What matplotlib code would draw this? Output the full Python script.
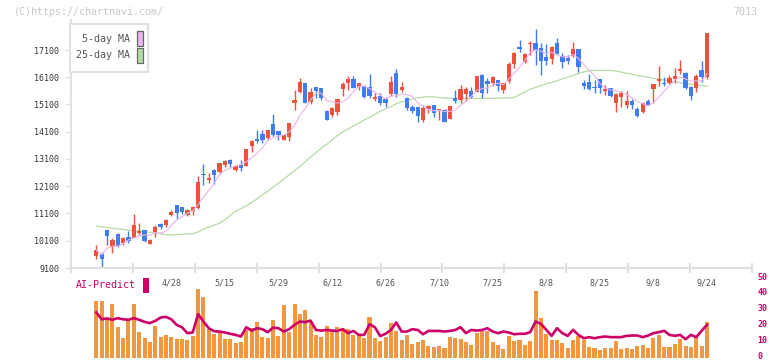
import numpy as np
import pandas as pd
import matplotlib
matplotlib.use("Agg")
import matplotlib.pyplot as plt
import matplotlib.patches as mpatches
import matplotlib.transforms as mtrans

# ---------------- data ----------------
opens = [9551, 9602, 10495, 9883, 10336, 10005, 10238, 10213, 10372, 10495,
         9993, 10421, 10703, 10678, 11045, 11412, 11327, 11045, 11204, 11290,
         12525, 12330, 12696, 12611, 12880, 13064, 12696, 12880, 12843, 13577,
         13834, 14018, 13859, 14385, 14128, 13796, 13920, 15168, 15571, 15877,
         15204, 15730, 15694, 14862, 14703, 14838, 15677, 15902, 16036, 15755,
         15779, 15755, 15302, 15412, 15302, 15473, 16244, 15633, 15351, 14996,
         14996, 14532, 14947, 15082, 14899, 14899, 14580, 15327, 15266, 15473,
         15596, 15571, 16183, 15963, 15877, 15999, 15633, 15963, 16575, 17198,
         16672, 17333, 17345, 17186, 16831, 16770, 17369, 16880, 16819, 16880,
         17137, 15902, 15938, 15755, 16036, 15596, 15694, 15143, 15363, 15082,
         15241, 14935, 14838, 15241, 15669, 15963, 15902, 15902, 16024, 16330,
         16269, 15730, 15718, 16367, 16122]
highs = [9944, 9700, 10495, 10189, 10372, 10250, 10470, 11082, 10764, 10495,
         10152, 10678, 10739, 10911, 11229, 11412, 11327, 11265, 11376, 12476,
         12917, 12574, 12733, 12966, 13064, 13088, 12880, 13064, 13455, 13796,
         14165, 14165, 14165, 14752, 14128, 13981, 14409, 15633, 16085, 15877,
         15694, 15730, 15718, 14899, 15021, 15302, 15938, 16158, 16158, 15902,
         15816, 16220, 15510, 15510, 15388, 16158, 16391, 15938, 15388, 15082,
         15021, 15082, 15082, 15082, 14923, 14923, 15045, 15633, 15816, 15755,
         15755, 16146, 16220, 16061, 16146, 15999, 15902, 16648, 17015, 17467,
         16978, 17431, 17853, 17345, 17320, 17247, 17553, 16978, 16917, 17394,
         17137, 15999, 16220, 15999, 16036, 15804, 15694, 15535, 15596, 15608,
         15302, 14996, 15204, 15302, 15853, 16513, 16122, 16171, 16428, 16734,
         16305, 15792, 16220, 16709, 17736]
lows = [9418, 9088, 9944, 9638, 9883, 9944, 10005, 10189, 10311, 10066,
        9993, 10250, 10519, 10593, 11008, 10886, 11082, 11008, 11045, 11250,
        12146, 12207, 12183, 12538, 12819, 12819, 12672, 12672, 12843, 13369,
        13700, 13700, 13796, 13944, 13796, 13796, 13761, 14899, 15510, 15143,
        15107, 15327, 15266, 14532, 14654, 14715, 15412, 15633, 15694, 15633,
        15351, 15351, 15241, 15082, 14996, 15412, 15388, 15571, 14899, 14777,
        14470, 14470, 14801, 14654, 14532, 14470, 14580, 15143, 15168, 15229,
        15327, 15571, 15327, 15535, 15779, 15596, 15535, 15877, 16428, 17015,
        16611, 16917, 16550, 16183, 16550, 16587, 16954, 16452, 16575, 16831,
        16305, 15657, 15633, 15510, 15535, 15449, 15363, 14838, 14996, 14984,
        14923, 14654, 14801, 15082, 15168, 15779, 15779, 15840, 15902, 16220,
        15669, 15266, 15571, 15914, 16024]
closes = [9761, 9418, 10287, 10128, 9907, 10213, 10103, 10678, 10470, 10103,
          10128, 10593, 10593, 10862, 11167, 11131, 11143, 11229, 11351, 12268,
          12501, 12415, 12513, 12941, 13027, 12904, 12843, 12758, 13455, 13761,
          13761, 13796, 14165, 13981, 13981, 13981, 14409, 15266, 15914, 15168,
          15571, 15608, 15327, 14532, 14984, 15302, 15853, 16036, 15718, 15877,
          15388, 15412, 15388, 15168, 15143, 15938, 15473, 15730, 14984, 14874,
          14691, 14960, 15045, 14777, 14923, 14470, 15045, 15241, 15669, 15669,
          15363, 16146, 15535, 15853, 16097, 15779, 15877, 16575, 16978, 17149,
          16954, 17369, 17100, 16709, 16709, 17198, 16954, 16672, 16709, 17137,
          16489, 15792, 15657, 15718, 15718, 15669, 15424, 15486, 15510, 15241,
          15082, 14678, 15143, 15082, 15853, 16036, 15840, 16085, 16146, 16403,
          15718, 15424, 16146, 16122, 17736]
ma25 = [10640, 10612, 10586, 10560, 10535, 10512, 10490, 10470, 10450, 10430,
        10410, 10396, 10360, 10325, 10315, 10325, 10337, 10347, 10356, 10420,
        10525, 10600, 10670, 10745, 10860, 11030, 11180, 11280, 11380, 11500,
        11640, 11780, 11920, 12070, 12210, 12360, 12520, 12670, 12830, 13000,
        13170, 13330, 13490, 13640, 13800, 13960, 14100, 14200, 14310, 14420,
        14530, 14630, 14740, 14850, 14940, 15030, 15130, 15200, 15250, 15300,
        15345, 15370, 15385, 15380, 15355, 15335, 15327, 15325, 15325, 15325,
        15325, 15327, 15327, 15327, 15330, 15330, 15335, 15340, 15360, 15460,
        15560, 15660, 15730, 15790, 15860, 15910, 15970, 16040, 16100, 16170,
        16230, 16300, 16340, 16348, 16348, 16348, 16348, 16330, 16290, 16245,
        16210, 16170, 16130, 16095, 16060, 16030, 16000, 15965, 15930, 15900,
        15875, 15850, 15820, 15795, 15770]
volume_score = [35.7, 35.7, 24.1, 34.0, 19.3, 12.4, 23.7, 34.0, 16.2, 12.6,
                9.9, 20.0, 13.0, 14.1, 13.0, 11.8, 11.8, 11.2, 13.9, 43.3,
                38.2, 17.9, 15.1, 16.4, 11.8, 11.8, 9.5, 10.1, 17.4, 18.5,
                22.5, 13.2, 12.4, 23.7, 13.7, 32.8, 16.4, 34.0, 27.7, 30.0,
                22.7, 14.3,
                13.2, 20.0, 16.4, 19.3, 17.4, 17.9, 14.3, 14.3, 12.6, 25.6,
                12.4, 10.7, 13.2, 22.0, 16.8, 11.2, 14.3, 8.6, 10.1, 11.2,
                7.4, 6.9, 7.6, 6.1, 13.2, 12.6, 11.8, 10.1, 8.0, 15.4,
                18.3, 16.8, 10.1, 8.0, 5.7, 13.7, 10.7, 11.4, 8.0, 10.7, 41.6,
                25.0, 14.9, 11.2, 11.2, 9.5, 6.3, 11.2, 13.7, 11.2, 6.9,
                5.9, 4.9, 6.3, 6.3, 10.7, 5.7, 6.3, 5.7, 7.4, 8.0,
                6.3, 12.6, 14.3, 6.9, 6.9, 8.6, 11.8, 7.6, 6.9, 12.9, 7.4, 22.7]
ai_predict = [28.4, 24.1, 24.6, 23.8, 24.8, 24.1, 23.8, 24.8, 23.8, 22.5,
              21.7, 23.1, 25.2, 25.6, 24.1, 20.6, 19.1, 15.4, 15.8, 27.3,
              22.7, 18.5, 16.6, 16.4, 15.8, 15.0, 14.3, 13.3, 19.1, 17.0,
              18.5, 17.9, 16.0, 18.9, 18.5, 16.4, 17.9, 20.6, 22.7, 22.3,
              23.3, 17.4,
              17.0, 17.4, 17.0, 16.8, 17.9, 15.4, 16.8, 14.3, 14.3, 21.0,
              19.1, 13.6, 15.0, 17.4, 22.1, 16.4, 16.4, 17.9, 17.4, 14.7,
              16.8, 16.8, 16.8, 16.4, 16.8, 17.4, 19.1, 15.4, 17.4, 17.0,
              17.4, 18.5, 16.4, 15.4, 16.4, 15.8, 14.7, 15.0, 15.0, 16.0, 22.7,
              21.2, 17.5, 13.7, 18.5, 15.4, 13.7, 17.5, 14.3, 12.2, 12.9,
              12.2, 12.9, 13.3, 12.9, 12.9, 12.9, 13.7, 13.9, 13.9, 12.9,
              13.9, 15.4, 16.0, 16.9, 14.3, 13.7, 14.3, 11.6, 14.3, 12.9, 16.9, 20.6]
date_labels = ['4/28', '5/15', '5/29', '6/12', '6/26', '7/10', '7/25', '8/8', '8/25', '9/8', '9/24']
date_label_idx = [14, 24, 34, 44, 54, 64, 74, 84, 94, 104, 114]
price_ticks = [9100, 10100, 11100, 12100, 13100, 14100, 15100, 16100, 17100]
score_ticks = [0, 10, 20, 30, 40, 50]
code = '7013'

# ---------------- style ----------------
plt.rcParams['font.family'] = ['DejaVu Sans Mono']
RED = '#f0503c'
BLUE = '#3f7df0'
PINK = '#e9b4ea'
GREEN = '#b5dba5'
MAG = '#cc0066'
ORANGE = '#f2963f'
AXC = '#e0e0e0'

W, H = 772, 361
fig = plt.figure(figsize=(W / 100, H / 100), dpi=100)

def fx(px):
    return px / W

def fy(py):
    return 1 - py / H

n = len(closes)
x = np.arange(n)
o = np.array(opens, float)
c = np.array(closes, float)
hi = np.array(highs, float)
lo = np.array(lows, float)

left_px, right_px = 71, 752
first_px, step_px = 96.3, 5.357
xlim = ((left_px - first_px) / step_px, (right_px - first_px) / step_px)

# main axes
ax = fig.add_axes([fx(left_px), fy(268), fx(right_px - left_px), (268 - 20) / H])
ymin = 9100
ypp = 1000 / 27.25
ax.set_xlim(*xlim)
ax.set_ylim(ymin, ymin + 248 * ypp)

up = c >= o
colors = np.where(up, RED, BLUE)
ax.vlines(x, lo, hi, colors=colors, linewidth=1.0, zorder=2)
body_bottom = np.minimum(o, c)
body_h = np.maximum(np.abs(c - o), 40)
ax.bar(x, body_h, bottom=body_bottom, width=0.8, color=colors, linewidth=0, zorder=3)

ma5 = pd.Series(c).rolling(5, min_periods=1).mean().values
ax.plot(x, ma5, color=PINK, linewidth=0.8, zorder=4)
ax.plot(x, ma25, color=GREEN, linewidth=0.9, zorder=1)

ax.set_yticks(price_ticks)
ax.set_yticklabels([str(v) for v in price_ticks], fontsize=6, color='#333333')
ax.tick_params(axis='y', length=4.5, width=1, color=AXC, pad=4)
ax.set_xticks(np.linspace(xlim[0], xlim[1], 12))
ax.set_xticklabels([])
ax.tick_params(axis='x', direction='inout', length=7, width=1.5, color=AXC)
for s in ['top', 'right']:
    ax.spines[s].set_visible(False)
for s in ['left', 'bottom']:
    ax.spines[s].set_color(AXC)
    ax.spines[s].set_linewidth(1.5)

trans = mtrans.blended_transform_factory(ax.transData, ax.transAxes)
for lab, idx in zip(date_labels, date_label_idx):
    ax.text(idx, -(282.5 - 268) / 248, lab, transform=trans, ha='center', va='center',
            fontsize=6.0, color='#555555', clip_on=False)

# bottom axes
ax2 = fig.add_axes([fx(left_px), fy(357.7), fx(right_px - left_px), (357.7 - 278) / H])
ax2.set_xlim(*xlim)
ax2.set_ylim(0, 50)
ax2.bar(x, volume_score, width=0.75, color=ORANGE, linewidth=0, zorder=1)
ax2.plot(x, ai_predict, color=MAG, linewidth=1.9, zorder=2)
ax2.yaxis.tick_right()
ax2.set_yticks(score_ticks)
ax2.set_yticklabels([str(v) for v in score_ticks], fontsize=6.0, color=MAG, fontweight='bold')
ax2.tick_params(axis='y', length=0, pad=4)
shift = mtrans.ScaledTranslation(0, 2 / 100, fig.dpi_scale_trans)
for lab in ax2.get_yticklabels():
    lab.set_transform(lab.get_transform() + shift)
ax2.set_xticks([])
for s in ax2.spines.values():
    s.set_visible(False)
ax2.patch.set_alpha(0)

# AI-Predict label
fig.text(fx(76), fy(285.5), 'AI-Predict', fontsize=7.2, color=MAG, ha='left', va='center')
fig.patches.append(mpatches.Rectangle((fx(142.5), fy(293)), fx(6.5), 15.5 / H,
                                      transform=fig.transFigure, color=MAG, linewidth=0))

# legend
fig.patches.append(mpatches.Rectangle((fx(70), fy(72)), fx(78), 48 / H, transform=fig.transFigure,
                                      facecolor='white', edgecolor=AXC, linewidth=1.5, zorder=5))
fig.text(fx(130), fy(38.5), '5-day MA', fontsize=7.2, color='#555555', ha='right', va='center', zorder=6)
fig.text(fx(130), fy(55.5), '25-day MA', fontsize=7.2, color='#555555', ha='right', va='center', zorder=6)
fig.patches.append(mpatches.Rectangle((fx(136.5), fy(46)), fx(6), 15 / H, transform=fig.transFigure,
                                      facecolor=PINK, edgecolor='#666666', linewidth=0.9, zorder=6))
fig.patches.append(mpatches.Rectangle((fx(136.5), fy(63.3)), fx(6), 15 / H, transform=fig.transFigure,
                                      facecolor=GREEN, edgecolor='#666666', linewidth=0.9, zorder=6))

# watermark / code
fig.text(fx(14), fy(12), '(C)https://chartnavi.com/', fontsize=7.2, color='#c8c8c8', ha='left', va='center')
fig.text(fx(757), fy(12), code, fontsize=7.2, color='#c8c8c8', ha='right', va='center')

fig.savefig('out.png', dpi=100, facecolor='white')
